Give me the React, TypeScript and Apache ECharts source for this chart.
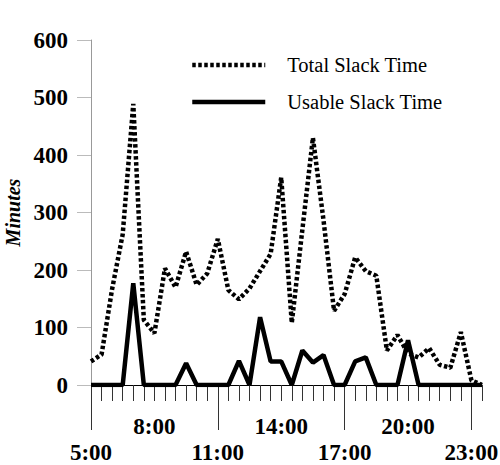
import React, { useEffect, useRef } from "react";
import * as echarts from "echarts";

const categories = [
  "5:00", "5:30", "6:00", "6:30", "7:00", "7:30", "8:00", "8:30", "9:00", "9:30",
  "10:00", "10:30", "11:00", "11:30", "12:00", "12:30", "13:00", "13:30", "14:00", "14:30",
  "15:00", "15:30", "16:00", "16:30", "17:00", "17:30", "18:00", "18:30", "19:00", "19:30",
  "20:00", "20:30", "21:00", "21:30", "22:00", "22:30", "23:00", "23:30",
];

const totalSlack = [
  41, 53, 167, 262, 489, 113, 90, 203, 170, 232,
  174, 194, 254, 165, 149, 168, 198, 228, 361, 108,
  270, 430, 287, 129, 158, 222, 198, 190, 60, 87,
  55, 48, 64, 35, 30, 92, 8, 0,
];

const usableSlack = [
  0, 0, 0, 0, 177, 0, 0, 0, 0, 38,
  0, 0, 0, 0, 42, 0, 118, 41, 41, 0,
  60, 39, 52, 0, 0, 41, 48, 0, 0, 0,
  78, 0, 0, 0, 0, 0, 0, 0,
];

const yTicks = { min: 0, max: 600, interval: 100 };
const upperLabels = ["8:00", "14:00", "20:00"];
const lowerLabels = ["5:00", "11:00", "17:00", "23:00"];

const FONT = "'Times New Roman', 'Liberation Serif', 'DejaVu Serif', serif";
const DOTTED: number[] = [3.5, 2.5];

export default function App() {
  const ref = useRef<HTMLDivElement>(null);

  useEffect(() => {
    if (!ref.current) return;
    const chart = echarts.init(ref.current, undefined, { renderer: "svg" });
    const isUpper = (i: number) => upperLabels.includes(categories[i]);
    const isLower = (i: number) => lowerLabels.includes(categories[i]);

    chart.setOption({
      animation: false,
      backgroundColor: "#fff",
      textStyle: { fontFamily: FONT },
      grid: {
        left: 91,
        right: 18,
        top: 40,
        bottom: 80,
        containLabel: false,
        outerBoundsMode: "none",
      },
      legend: {
        orient: "vertical",
        left: 185,
        top: 44,
        itemWidth: 73,
        itemHeight: 14,
        itemGap: 5,
        itemStyle: { opacity: 0 },
        textStyle: {
          fontFamily: FONT,
          fontSize: 20.5,
          lineHeight: 20,
          color: "#000",
          padding: [12, 0, 0, 17],
        },
        data: [
          {
            name: "Total Slack Time",
            lineStyle: { width: 4.5, type: DOTTED, color: "#000" },
          },
          {
            name: "Usable Slack Time",
            lineStyle: { width: 4.5, type: "solid", color: "#000" },
          },
        ],
      },
      xAxis: [
        {
          type: "category",
          data: categories,
          boundaryGap: false,
          axisLine: { show: true, lineStyle: { color: "#000", width: 1 } },
          axisTick: {
            show: true,
            interval: 0,
            length: 16,
            lineStyle: { color: "#333", width: 1 },
          },
          axisLabel: {
            show: true,
            interval: (i: number) => isUpper(i),
            margin: 30,
            fontFamily: FONT,
            fontSize: 23,
            fontWeight: "bold",
            color: "#000",
          },
          splitLine: { show: false },
        },
        {
          type: "category",
          data: categories,
          boundaryGap: false,
          position: "bottom",
          offset: 0,
          axisLine: { show: false },
          axisTick: {
            show: true,
            interval: (i: number) => isLower(i),
            length: 45,
            lineStyle: { color: "#333", width: 1 },
          },
          axisLabel: {
            show: true,
            interval: (i: number) => isLower(i),
            margin: 56,
            fontFamily: FONT,
            fontSize: 23,
            fontWeight: "bold",
            color: "#000",
          },
          splitLine: { show: false },
        },
      ],
      yAxis: {
        type: "value",
        min: yTicks.min,
        max: yTicks.max,
        interval: yTicks.interval,
        name: "Minutes",
        nameLocation: "middle",
        nameRotate: 90,
        nameGap: 62,
        nameTextStyle: {
          fontFamily: FONT,
          fontSize: 20,
          fontStyle: "italic",
          fontWeight: "bold",
          color: "#000",
        },
        axisLine: { show: true, lineStyle: { color: "#999", width: 1 } },
        axisTick: { show: true, length: 14, lineStyle: { color: "#bbb", width: 1 } },
        axisLabel: {
          margin: 23,
          fontFamily: FONT,
          fontSize: 23,
          fontWeight: "bold",
          color: "#000",
        },
        splitLine: { show: false },
      },
      series: [
        {
          name: "Total Slack Time",
          type: "line",
          data: totalSlack,
          symbol: "none",
          lineStyle: { color: "#000", width: 4.5, type: DOTTED },
          itemStyle: { color: "#000" },
          z: 2,
        },
        {
          name: "Usable Slack Time",
          type: "line",
          data: usableSlack,
          symbol: "none",
          lineStyle: { color: "#000", width: 4.5, type: "solid" },
          itemStyle: { color: "#000" },
          z: 3,
        },
      ],
    });
    return () => chart.dispose();
  }, []);

  return (
    <div
      ref={ref}
      style={{ position: "absolute", left: 0, top: 0, width: 500, height: 465 }}
    />
  );
}
